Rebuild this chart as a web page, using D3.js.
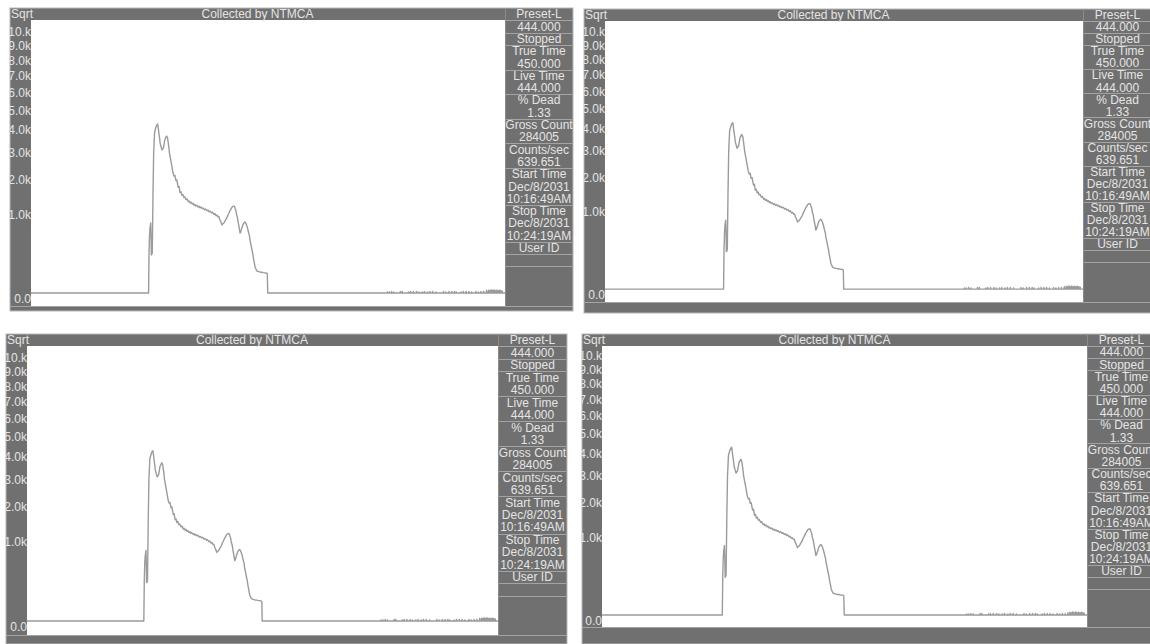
<!DOCTYPE html>
<html><head><meta charset="utf-8">
<script src="https://cdn.jsdelivr.net/npm/d3@7"></script>
<style>body{margin:0;background:#fff}svg{display:block}</style>
</head><body>
<svg id="c" width="1150" height="644"></svg>
<script>
// ---------- data ----------
const titleText = "Collected by NTMCA";
const scaleName = "Sqrt";
const yTickValues = [0,1000,2000,3000,4000,5000,6000,7000,8000,9000,10000];
const yTickLabels = ["0.0","1.0k","2.0k","3.0k","4.0k","5.0k","6.0k","7.0k","8.0k","9.0k","10.k"];
const infoRows = ["Preset-L","444.000","Stopped","True Time","450.000","Live Time","444.000","% Dead","1.33",
  "Gross Count","284005","Counts/sec","639.651","Start Time","Dec/8/2031","10:16:49AM","Stop Time","Dec/8/2031","10:24:19AM","User ID"];
const infoSeparatorsAfter = [0,1,2,4,6,8,10,12,15,18,19,20];
const channelMax = 1024;
const spectrumChannels = [0,254,255,256,257,258.6,259.5,260,261,262,263.5,265,267,270,272,273.7,275,276,278,279,281,283,285,286,288,289,291,293,295,296,298,299,301,303,305,306.8,
  309,311,313,315,318,320,322,324,326,328,330,332,335,337,340,342,344,346,348,350,352,354,356,358,361,363,365,367,370,372,375,377,380,382,385,387,390,392,395,397,400,402,404,406,408,410,412.6,
  414,416,418,420,422,425,427,430,432,434,436,438.5,440,441,443,444,446,448,450,451.5,453,454,456,458,460,462,464,466,468,470,472,473,475,477,479,481,483,484,486,488,490,492,494,495,497,500,502,505,507,509,510.5,511.4,channelMax];
const spectrumCounts = [5,5,300,560,700,810,500,272,280,300,1500,3000,3900,4150,4250,4296,4100,3900,3600,3400,3250,3114,3180,3200,3420,3550,3650,3727,3640,3500,3200,3000,2800,2600,2400,2227,
  2120,2140,1970,1990,1750,1775,1590,1615,1510,1535,1450,1465,1385,1405,1325,1345,1295,1315,1265,1285,1235,1255,1212,1232,1185,1205,1165,1185,1145,1162,1115,1135,1095,1112,1065,1082,1042,1058,1005,1025,972,988,945,950,880,840,768,
  790,800,830,870,900,980,1020,1100,1130,1180,1195,1213,1190,1150,1080,1000,930,800,700,611,630,660,720,780,810,832,810,760,700,620,560,488,420,350,290,220,170,144,125,110,108,105,103,102,100,100,98,96,95,94,90,5,5];
const tailChannels = [770,774,779,784,798,802,816,820,826,833,838,845,850,857,862,868,875,891,896,903,909,915,919,929,934,940,946,952,961,966,972,978,984,988,991,994,997,1000,1003,1006,1009,1012,1015,1018];
const tailCounts   = [7,7,8,7,8,8,7,8,8,8,7,7,8,7,8,8,7,8,7,8,8,8,7,7,8,8,8,7,8,7,8,8,10,11,10,12,10,12,10,11,10,11,10,9];
const baselineCount = 5;

// ---------- layout of the four panels ----------
const panels = [
  {left:10, top:8,   plotLeft:31,  plotRight:505,  sideRight:573,  titleBottom:20,  plotBottom:306, bottom:311, y0:299, y10:32,  rowH:12.3},
  {left:584,top:9,   plotLeft:605, plotRight:1083, sideRight:1152, titleBottom:21,  plotBottom:302, bottom:313, y0:295, y10:32,  rowH:12.05},
  {left:6,  top:334, plotLeft:27,  plotRight:498,  sideRight:567,  titleBottom:346, plotBottom:635, bottom:644, y0:627, y10:358, rowH:12.47},
  {left:582,top:334, plotLeft:602, plotRight:1087, sideRight:1156, titleBottom:346, plotBottom:627, bottom:644, y0:621, y10:356, rowH:12.16}
];

const FRAME = "#707070", TEXT = "#e4e4e4", SEP = "#a3a3a3", TRACE = "#9b9b9b";
const FONT = "'Liberation Sans', Arial, sans-serif";

// build series
let series = spectrumChannels.map((c,i)=>[c, spectrumCounts[i]]);
tailChannels.forEach((c,i)=>{ series.push([c-0.6, baselineCount],[c, tailCounts[i]],[c+0.6, baselineCount]); });
series.sort((a,b)=>a[0]-b[0]);

const svg = d3.select("#c");

panels.forEach((p, pi) => {
  const g = svg.append("g");
  g.append("rect").attr("x", p.left).attr("y", p.top)
    .attr("width", p.sideRight - p.left).attr("height", p.bottom - p.top)
    .attr("fill", FRAME).attr("stroke", "#b8b8b8").attr("stroke-width", 1);
  g.append("rect").attr("x", p.plotLeft).attr("y", p.titleBottom)
    .attr("width", p.plotRight - p.plotLeft).attr("height", p.plotBottom - p.titleBottom)
    .attr("fill", "#fff");

  const x = d3.scaleLinear().domain([0, channelMax]).range([p.plotLeft, p.plotRight]);
  const y = d3.scaleSqrt().domain([0, 10000]).range([p.y0, p.y10]);

  const cid = "clipPlot" + pi;
  svg.append("clipPath").attr("id", cid).append("rect")
    .attr("x", p.plotLeft).attr("y", p.titleBottom)
    .attr("width", p.plotRight - p.plotLeft).attr("height", p.plotBottom - p.titleBottom);
  g.append("path").datum(series)
    .attr("clip-path", `url(#${cid})`)
    .attr("fill", "none").attr("stroke", TRACE).attr("stroke-width", 1.4).attr("stroke-linejoin", "round")
    .attr("d", d3.line().x(d => x(d[0])).y(d => y(d[1])));

  const sid = "clipStrip" + pi;
  svg.append("clipPath").attr("id", sid).append("rect")
    .attr("x", p.left).attr("y", p.titleBottom)
    .attr("width", p.plotLeft - p.left).attr("height", p.plotBottom - p.titleBottom);
  const ax = g.append("g").attr("clip-path", `url(#${sid})`)
    .append("g").attr("transform", `translate(${p.plotLeft},0)`)
    .call(d3.axisLeft(y).tickValues(yTickValues).tickFormat((d,i)=>yTickLabels[i]).tickSize(0).tickPadding(0));
  ax.select(".domain").remove();
  ax.selectAll("text").attr("fill", TEXT).attr("font-size", 12).attr("font-family", FONT);

  const tb = (p.top + p.titleBottom) / 2 + 4.3;
  g.append("text").attr("x", p.left + 1).attr("y", tb).text(scaleName)
    .attr("fill", TEXT).attr("font-size", 12).attr("font-family", FONT);
  g.append("text").attr("x", (p.left + p.plotRight) / 2).attr("y", tb).text(titleText)
    .attr("text-anchor", "middle").attr("fill", TEXT).attr("font-size", 12).attr("font-family", FONT);

  const cx = (p.plotRight + p.sideRight) / 2;
  g.append("line").attr("x1", p.plotRight + 0.5).attr("x2", p.plotRight + 0.5)
    .attr("y1", p.top).attr("y2", p.plotBottom).attr("stroke", "#8c8c8c");
  g.selectAll(".info").data(infoRows).join("text")
    .attr("x", cx).attr("y", (d,i) => p.top + p.rowH * (i + 0.5) + 4.2)
    .attr("text-anchor", "middle").attr("fill", TEXT).attr("font-size", 12).attr("font-family", FONT)
    .text(d => d);
  g.selectAll(".sep").data(infoSeparatorsAfter).join("line")
    .attr("x1", p.plotRight + 1).attr("x2", p.sideRight - 1)
    .attr("y1", d => Math.round(p.top + p.rowH * (d + 1)) + 0.5)
    .attr("y2", d => Math.round(p.top + p.rowH * (d + 1)) + 0.5)
    .attr("stroke", SEP).attr("stroke-width", 1);
  g.append("line").attr("x1", p.left).attr("x2", p.sideRight)
    .attr("y1", p.plotBottom + 0.5).attr("y2", p.plotBottom + 0.5)
    .attr("stroke", SEP);
});
</script>
</body></html>
